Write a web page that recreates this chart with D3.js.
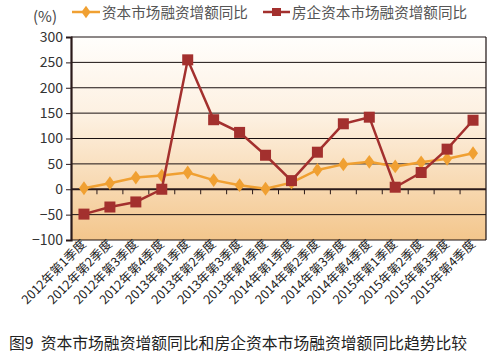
<!DOCTYPE html>
<html><head><meta charset="utf-8">
<script src="https://cdn.jsdelivr.net/npm/d3@7/dist/d3.min.js"></script>
<style>body{margin:0;background:#fff;} text{font-family:"Noto Sans CJK SC","Liberation Sans",sans-serif;}</style>
</head><body>
<svg id="c" width="496" height="359"></svg>
<script>
const categories = ["2012年第1季度","2012年第2季度","2012年第3季度","2012年第4季度",
"2013年第1季度","2013年第2季度","2013年第3季度","2013年第4季度",
"2014年第1季度","2014年第2季度","2014年第3季度","2014年第4季度",
"2015年第1季度","2015年第2季度","2015年第3季度","2015年第4季度"];
const capitalMarket = [2, 12, 23, 27, 33, 18, 8, 1, 13, 38, 49, 54, 45, 53, 60, 71];
const realEstate = [-49, -35, -25, 0, 255, 137, 112, 67, 17, 73, 129, 142, 4, 33, 79, 136];
const yTicks = [-100, -50, 0, 50, 100, 150, 200, 250, 300];
const seriesNames = ["资本市场融资增额同比", "房企资本市场融资增额同比"];
const caption = "图9  资本市场融资增额同比和房企资本市场融资增额同比趋势比较";

const svg = d3.select("#c");
const L = 71, R = 486, T = 37, B = 240;
const x = d3.scaleBand().domain(categories).range([L, R]);
const y = d3.scaleLinear().domain([-100, 300]).range([B, T]);

const defs = svg.append("defs");
const g = defs.append("linearGradient").attr("id","bg").attr("x1",0).attr("y1",0).attr("x2",0).attr("y2",1);
g.append("stop").attr("offset","0%").attr("stop-color","#fffefc");
g.append("stop").attr("offset","40%").attr("stop-color","#fdf0e0");
g.append("stop").attr("offset","100%").attr("stop-color","#f3c68c");
svg.append("rect").attr("x",L).attr("y",T).attr("width",R-L).attr("height",B-T).attr("fill","url(#bg)");

// gridlines
svg.append("g").selectAll("line").data(yTicks.filter(d=>d!==0)).join("line")
  .attr("x1",L).attr("x2",R).attr("y1",d=>y(d)).attr("y2",d=>y(d))
  .attr("stroke","#1a1010").attr("stroke-width",1);
// right border
svg.append("line").attr("x1",R).attr("x2",R).attr("y1",T).attr("y2",B).attr("stroke","#1a1010").attr("stroke-width",1.2);

// y axis
const ya = svg.append("g").attr("transform",`translate(${L},0)`)
  .call(d3.axisLeft(y).tickValues(yTicks).tickSize(5).tickFormat(d=> d<0 ? "−"+Math.abs(d) : d));
ya.select(".domain").attr("stroke","#2a1a1a").attr("stroke-width",2.2);
ya.selectAll(".tick line").attr("stroke","#2a1a1a");
ya.selectAll(".tick text").attr("font-size",14).attr("fill","#333").attr("x",-8)
  .attr("font-family","Liberation Sans, sans-serif");

// zero line with ticks at band boundaries
svg.append("line").attr("x1",L).attr("x2",R).attr("y1",y(0)).attr("y2",y(0)).attr("stroke","#2a1a1a").attr("stroke-width",2);
svg.append("g").selectAll("line").data(categories.slice(1)).join("line")
  .attr("x1",d=>x(d)).attr("x2",d=>x(d)).attr("y1",y(0)).attr("y2",y(0)+5)
  .attr("stroke","#2a1a1a").attr("stroke-width",1);

// x labels
svg.append("g").selectAll("text").data(categories).join("text")
  .attr("transform",d=>`translate(${x(d)+x.bandwidth()/2+3},${B+5}) rotate(-45)`)
  .attr("text-anchor","end").attr("font-size",12.5).attr("fill","#222").text(d=>d);

const cx = d=> x(d)+x.bandwidth()/2;
const line = d3.line().x((d,i)=>cx(categories[i])).y(d=>y(d));

// orange series
svg.append("path").datum(capitalMarket).attr("d",line).attr("fill","none").attr("stroke","#f0a032").attr("stroke-width",2.5);
svg.append("g").selectAll("path").data(capitalMarket).join("path")
  .attr("d",d3.symbol().type(d3.symbolDiamond).size(55))
  .attr("transform",(d,i)=>`translate(${cx(categories[i])},${y(d)}) scale(1.25,1)`)
  .attr("fill","#f0a032");

// red series
svg.append("path").datum(realEstate).attr("d",line).attr("fill","none").attr("stroke","#a3302e").attr("stroke-width",2.5);
svg.append("g").selectAll("rect").data(realEstate).join("rect")
  .attr("x",(d,i)=>cx(categories[i])-5.5).attr("y",d=>y(d)-5.5).attr("width",11).attr("height",11)
  .attr("fill","#a3302e");

// legend
svg.append("text").attr("x",33).attr("y",22).attr("font-size",15).attr("fill","#444")
  .attr("font-family","Liberation Sans, sans-serif").text("(%)");
const lg = svg.append("g");
lg.append("line").attr("x1",72).attr("x2",100).attr("y1",12).attr("y2",12).attr("stroke","#f0a032").attr("stroke-width",2.5);
lg.append("path").attr("d",d3.symbol().type(d3.symbolDiamond).size(45)).attr("transform","translate(86,12) scale(1.25,1)").attr("fill","#f0a032");
lg.append("text").attr("x",102).attr("y",17.5).attr("font-size",14.6).attr("fill","#555").text(seriesNames[0]);
lg.append("line").attr("x1",263).attr("x2",290).attr("y1",12).attr("y2",12).attr("stroke","#a3302e").attr("stroke-width",2.5);
lg.append("rect").attr("x",272).attr("y",8).attr("width",9).attr("height",8).attr("fill","#a3302e");
lg.append("text").attr("x",292).attr("y",17.5).attr("font-size",14.6).attr("fill","#555").text(seriesNames[1]);

// caption
svg.append("text").attr("x",9).attr("y",349).attr("font-size",15.8).attr("fill","#222").attr("font-weight",400)
  .attr("xml:space","preserve").style("white-space","pre").text(caption);
</script>
</body></html>
